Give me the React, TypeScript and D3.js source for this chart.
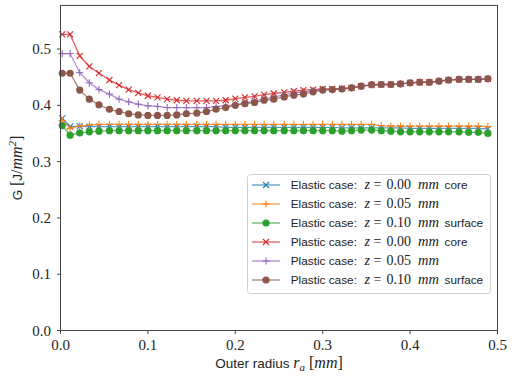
import React from "react";
import * as d3 from "d3";

const radius = [0.002, 0.011, 0.022, 0.033, 0.044, 0.056, 0.067, 0.078, 0.089, 0.100, 0.111, 0.122, 0.133, 0.144, 0.156, 0.167, 0.178, 0.189, 0.200, 0.211, 0.222, 0.233, 0.244, 0.256, 0.267, 0.278, 0.289, 0.300, 0.311, 0.322, 0.333, 0.344, 0.356, 0.367, 0.378, 0.389, 0.400, 0.411, 0.422, 0.433, 0.444, 0.456, 0.467, 0.478, 0.489];

const elasticCore = [0.377, 0.362, 0.363, 0.362, 0.362, 0.362, 0.362, 0.362, 0.362, 0.362, 0.362, 0.362, 0.362, 0.362, 0.362, 0.362, 0.362, 0.361, 0.361, 0.361, 0.361, 0.361, 0.361, 0.361, 0.361, 0.361, 0.361, 0.361, 0.361, 0.360, 0.360, 0.360, 0.360, 0.360, 0.360, 0.360, 0.359, 0.359, 0.359, 0.359, 0.359, 0.359, 0.359, 0.359, 0.358];
const elasticMid = [0.373, 0.359, 0.363, 0.365, 0.366, 0.366, 0.366, 0.366, 0.366, 0.366, 0.366, 0.366, 0.366, 0.366, 0.366, 0.366, 0.366, 0.366, 0.366, 0.366, 0.366, 0.366, 0.366, 0.366, 0.366, 0.366, 0.366, 0.366, 0.366, 0.366, 0.366, 0.366, 0.366, 0.364, 0.363, 0.363, 0.363, 0.363, 0.363, 0.363, 0.363, 0.363, 0.363, 0.363, 0.362];
const elasticSurface = [0.364, 0.347, 0.351, 0.353, 0.354, 0.355, 0.355, 0.355, 0.355, 0.355, 0.355, 0.355, 0.355, 0.355, 0.355, 0.355, 0.355, 0.355, 0.355, 0.355, 0.355, 0.355, 0.355, 0.355, 0.355, 0.355, 0.355, 0.355, 0.355, 0.354, 0.355, 0.356, 0.356, 0.355, 0.354, 0.353, 0.353, 0.353, 0.353, 0.353, 0.353, 0.353, 0.352, 0.352, 0.350];
const plasticCore = [0.526, 0.526, 0.488, 0.469, 0.457, 0.445, 0.436, 0.428, 0.422, 0.417, 0.414, 0.411, 0.409, 0.408, 0.408, 0.408, 0.408, 0.409, 0.412, 0.414, 0.416, 0.419, 0.421, 0.423, 0.425, 0.427, 0.428, 0.429, 0.429, 0.430, 0.431, 0.434, 0.436, 0.437, 0.437, 0.438, 0.440, 0.441, 0.441, 0.443, 0.445, 0.446, 0.446, 0.446, 0.447];
const plasticMid = [0.492, 0.492, 0.458, 0.440, 0.428, 0.420, 0.411, 0.406, 0.402, 0.399, 0.398, 0.396, 0.396, 0.396, 0.396, 0.396, 0.398, 0.399, 0.401, 0.404, 0.408, 0.411, 0.415, 0.418, 0.422, 0.424, 0.426, 0.428, 0.428, 0.429, 0.431, 0.434, 0.436, 0.437, 0.437, 0.438, 0.440, 0.441, 0.441, 0.443, 0.445, 0.446, 0.446, 0.446, 0.447];
const plasticSurface = [0.457, 0.457, 0.427, 0.411, 0.401, 0.393, 0.389, 0.385, 0.383, 0.382, 0.382, 0.382, 0.383, 0.385, 0.386, 0.389, 0.393, 0.396, 0.400, 0.403, 0.405, 0.409, 0.411, 0.415, 0.418, 0.420, 0.424, 0.427, 0.428, 0.429, 0.431, 0.434, 0.437, 0.437, 0.437, 0.438, 0.440, 0.441, 0.441, 0.443, 0.445, 0.446, 0.446, 0.446, 0.447];

const xTicks = [0.0, 0.1, 0.2, 0.3, 0.4, 0.5];
const yTicks = [0.0, 0.1, 0.2, 0.3, 0.4, 0.5];

type Marker = "x" | "+" | "o";
const seriesNames = ["Elastic case:", "Elastic case:", "Elastic case:", "Plastic case:", "Plastic case:", "Plastic case:"];
const seriesZ = ["0.00", "0.05", "0.10", "0.00", "0.05", "0.10"];
const seriesSuffix = ["core", "", "surface", "core", "", "surface"];
const seriesValues = [elasticCore, elasticMid, elasticSurface, plasticCore, plasticMid, plasticSurface];
const seriesColors = ["#1f77b4", "#ff7f0e", "#2ca02c", "#d62728", "#9467bd", "#8c564b"];
const seriesMarkers: Marker[] = ["x", "+", "o", "x", "+", "o"];

const W = 522, H = 383;
const x = d3.scaleLinear().domain([0, 0.5]).range([60.5, 497.5]);
const y = d3.scaleLinear().domain([0, 0.5775]).range([330.5, 5.4]);

const SANS = "'Liberation Sans', Arial, sans-serif";
const SERIF = "'Liberation Serif', 'Times New Roman', serif";

function MarkerShape({ m, cx, cy, color }: { m: Marker; cx: number; cy: number; color: string }) {
  if (m === "o") return <circle cx={cx} cy={cy} r={3.6} fill={color} />;
  const s = m === "x" ? 3 : 3.6;
  if (m === "x")
    return (
      <g stroke={color} strokeWidth={1.1}>
        <line x1={cx - s} y1={cy - s} x2={cx + s} y2={cy + s} />
        <line x1={cx - s} y1={cy + s} x2={cx + s} y2={cy - s} />
      </g>
    );
  return (
    <g stroke={color} strokeWidth={1.1}>
      <line x1={cx - s} y1={cy} x2={cx + s} y2={cy} />
      <line x1={cx} y1={cy - s} x2={cx} y2={cy + s} />
    </g>
  );
}

export default function App() {
  const line = d3.line<number>().x((_, i) => x(radius[i])).y((d) => y(d));
  const legX = 247.5, legY = 174.5, legW = 243, legH = 119;
  return (
    <svg width={W} height={H} style={{ position: "absolute", left: 0, top: 0, background: "#fff" }}>
      <rect width={W} height={H} fill="#fff" />
      {seriesValues.map((vals, si) => (
        <g key={si}>
          <path d={line(vals) || ""} fill="none" stroke={seriesColors[si]} strokeOpacity={0.75} strokeWidth={1.3} />
          {vals.map((v, i) => (
            <MarkerShape key={i} m={seriesMarkers[si]} cx={x(radius[i])} cy={y(v)} color={seriesColors[si]} />
          ))}
        </g>
      ))}
      {/* frame */}
      <rect x={60.5} y={5.4} width={437} height={325.1} fill="none" stroke="#444" strokeWidth={1} />
      {xTicks.map((t) => (
        <g key={"x" + t}>
          <line x1={x(t)} x2={x(t)} y1={330.5} y2={334} stroke="#444" />
          <text x={x(t)} y={349.5} textAnchor="middle" fontFamily={SERIF} fontSize={15} fill="#222">
            {t.toFixed(1)}
          </text>
        </g>
      ))}
      {yTicks.map((t) => (
        <g key={"y" + t}>
          <line x1={57} x2={60.5} y1={y(t)} y2={y(t)} stroke="#444" />
          <text x={51} y={y(t) + 5} textAnchor="end" fontFamily={SERIF} fontSize={15} fill="#222">
            {t.toFixed(1)}
          </text>
        </g>
      ))}
      {/* axis labels */}
      <text x={279} y={367.5} textAnchor="middle" fontFamily={SANS} fontSize={13.5} fill="#222">
        <tspan>Outer radius </tspan>
        <tspan fontFamily={SERIF} fontStyle="italic" fontSize={16}>r</tspan>
        <tspan fontFamily={SERIF} fontStyle="italic" fontSize={11} dy={3}>a</tspan>
        <tspan fontFamily={SERIF} fontSize={16} dy={-3}> [</tspan>
        <tspan fontFamily={SERIF} fontStyle="italic" fontSize={16}>mm</tspan>
        <tspan fontFamily={SERIF} fontSize={16}>]</tspan>
      </text>
      <text transform={`translate(22,168) rotate(-90)`} textAnchor="middle" fontFamily={SANS} fontSize={13.5} fill="#222">
        <tspan>G </tspan>
        <tspan fontFamily={SERIF} fontSize={16}>[</tspan>
        <tspan>J</tspan>
        <tspan fontFamily={SERIF} fontSize={16}>/</tspan>
        <tspan fontFamily={SERIF} fontStyle="italic" fontSize={16}>mm</tspan>
        <tspan fontFamily={SERIF} fontStyle="italic" fontSize={11} dy={-6}>2</tspan>
        <tspan fontFamily={SERIF} fontSize={16} dy={6}>]</tspan>
      </text>
      {/* legend */}
      <rect x={legX} y={legY} width={legW} height={legH} rx={3} fill="#fff" fillOpacity={0.85} stroke="#d0d0d0" strokeWidth={1} />
      {seriesNames.map((name, i) => {
        const cy = 185 + i * 19;
        const by = cy + 4.2;
        return (
          <g key={"l" + i} fill="#222">
            <line x1={252} x2={280} y1={cy} y2={cy} stroke={seriesColors[i]} strokeOpacity={0.75} strokeWidth={1.3} />
            <MarkerShape m={seriesMarkers[i]} cx={266} cy={cy} color={seriesColors[i]} />
            <text x={290.7} y={by} fontFamily={SANS} fontSize={11.8}>{name}</text>
            <text x={364.5} y={by} fontFamily={SERIF} fontStyle="italic" fontSize={14}>z</text>
            <text x={373.5} y={by} fontFamily={SERIF} fontSize={14}>=</text>
            <text x={386.5} y={by} fontFamily={SERIF} fontSize={14}>{seriesZ[i]}</text>
            <text x={418} y={by} fontFamily={SERIF} fontStyle="italic" fontSize={14.5}>mm</text>
            {seriesSuffix[i] ? (
              <text x={444.5} y={by} fontFamily={SANS} fontSize={11.8}>{seriesSuffix[i]}</text>
            ) : null}
          </g>
        );
      })}
    </svg>
  );
}
